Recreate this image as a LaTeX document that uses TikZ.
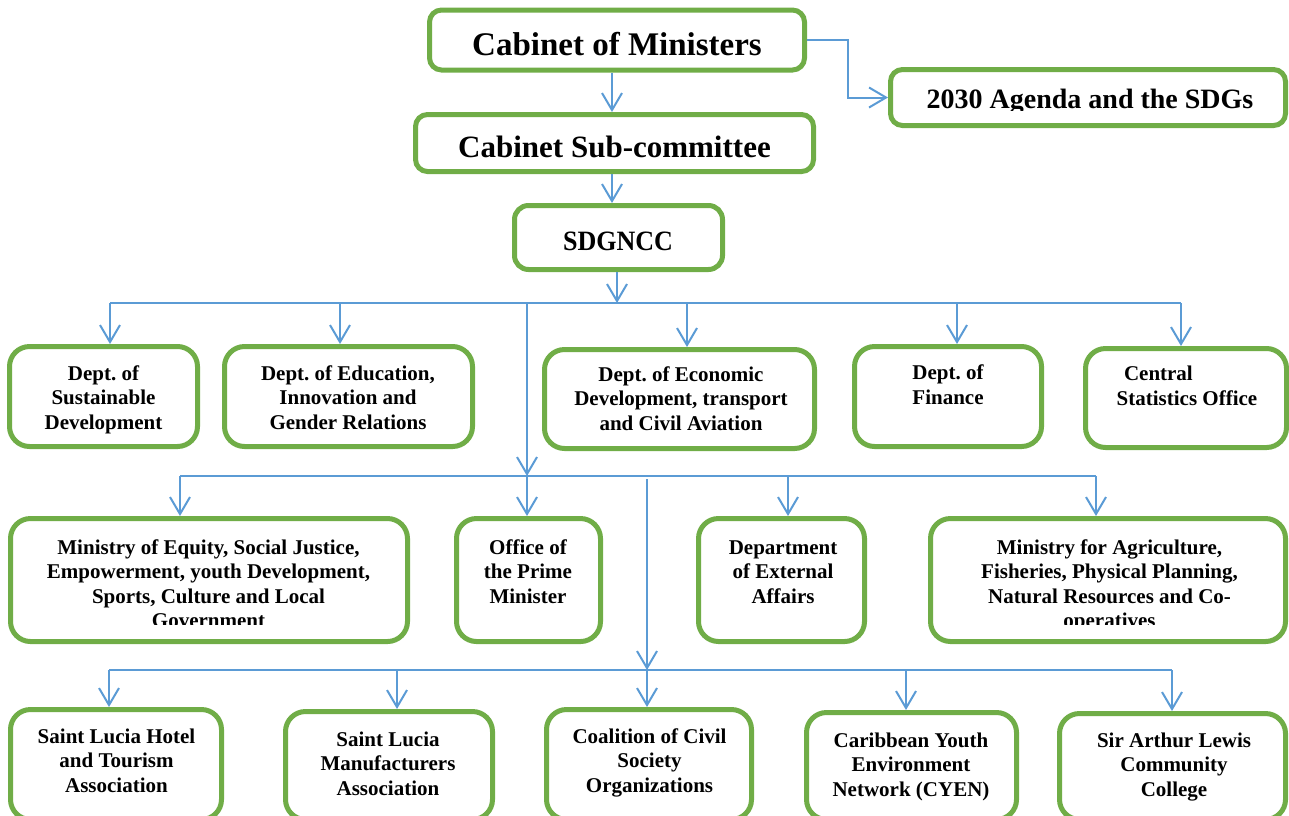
\documentclass[tikz,border=0pt]{standalone}
\usepackage{fontspec}
\setmainfont{Liberation Serif}
\usetikzlibrary{arrows.meta}
\definecolor{gbox}{RGB}{112,173,71}
\definecolor{barrow}{RGB}{91,155,213}
\frenchspacing
\tikzset{
  box/.style={draw=gbox, line width=5pt, fill=white, rounded corners=#1, inner sep=0pt},
  box/.default=20pt,
  txt/.style={font=\bfseries\fontsize{21}{24.5}\selectfont, align=center, inner sep=0pt, anchor=base},
  big/.style={font=\bfseries\fontsize{#1}{#1}\selectfont, inner sep=0pt, anchor=base},
  arr/.style={draw=barrow, line width=2pt, -{Straight Barb[length=17pt,width=20pt]}},
  bus/.style={draw=barrow, line width=1.5pt},
}
\begin{document}
\begin{tikzpicture}[x=1pt,y=-1pt]
\useasboundingbox (0,0) rectangle (1289,815);
\clip (0,0) rectangle (1289,815);
% top boxes
\node[box=12pt, minimum width=375pt, minimum height=60pt] (cab) at (617,40) {};
\node[big=33] (cabt) at (617,55) {Cabinet of Ministers};
\node[box=12pt, minimum width=398pt, minimum height=57pt] (sub) at (614.5,143) {};
\node[big=31] (subt) at (614.5,157) {Cabinet Sub-committee};
\node[box=12pt, minimum width=395pt, minimum height=56pt] (age) at (1088,97.5) {};
\begin{scope}
\clip (0,0) rectangle (1289,110);
\node[big=28] (aget) at (1090,108) {2030 Agenda and the SDGs};
\end{scope}
\node[box=14pt, minimum width=208pt, minimum height=64pt] (sdg) at (618.5,237.5) {};
\node[big=28] (sdgt) at (618,250) {\scalebox{0.93}[1]{SDGNCC}};
% row 2
\node[box, minimum width=188pt, minimum height=100pt] (d1) at (103.5,396.5) {};
\node[box, minimum width=248pt, minimum height=100pt] (d2) at (348.5,396.5) {};
\node[box, minimum width=270pt, minimum height=99pt] (d3) at (679.5,399) {};
\node[box, minimum width=187pt, minimum height=100pt] (d4) at (948,396.5) {};
\node[box, minimum width=201pt, minimum height=99pt] (d5) at (1186,398) {};
\node[txt] (d1t) at (103.5,429) {Dept. of\\Sustainable\\Development};
\node[txt] (d2t) at (348,429) {Dept. of Education,\\Innovation and\\Gender Relations};
\node[txt] (d3t) at (681,430) {Dept. of Economic\\Development, transport\\and Civil Aviation};
\node[txt] (d4t) at (948,404) {Dept. of\\Finance};
\node[txt] (d5t) at (1187,405) {\makebox[142pt][l]{\hspace*{8pt}Central}\\Statistics Office};
% row 3
\node[box, minimum width=397pt, minimum height=123pt] (m1) at (209,580) {};
\node[box, minimum width=144pt, minimum height=123pt] (m2) at (528.5,580) {};
\node[box, minimum width=166pt, minimum height=123pt] (m3) at (781.5,580) {};
\node[box, minimum width=355pt, minimum height=123pt] (m4) at (1108,580) {};
\begin{scope}
\clip (0,0) rectangle (1289,624);
\node[txt] (m1t) at (208.5,627.5) {Ministry of Equity, Social Justice,\\Empowerment, youth Development,\\Sports, Culture and Local\\Government};
\node[txt] (m4t) at (1109.5,627.5) {Ministry for Agriculture,\\Fisheries, Physical Planning,\\Natural Resources and Co-\\operatives};
\end{scope}
\node[txt] (m2t) at (528,603) {Office of\\the Prime\\Minister};
\node[txt] (m3t) at (783,603) {Department\\of External\\Affairs};
% row 4
\node[box, minimum width=211pt, minimum height=110pt] (b1) at (116,764.5) {};
\node[box, minimum width=207pt, minimum height=108pt] (b2) at (389,765.5) {};
\node[box, minimum width=205pt, minimum height=110pt] (b3) at (649,764.5) {};
\node[box, minimum width=210pt, minimum height=107pt] (b4) at (911.5,766) {};
\node[box, minimum width=226pt, minimum height=106pt] (b5) at (1172.5,766.5) {};
\node[txt] (b1t) at (116.5,792) {Saint Lucia Hotel\\and Tourism\\Association};
\node[txt] (b2t) at (388,795) {Saint Lucia\\Manufacturers\\Association};
\node[txt] (b3t) at (649.5,792) {Coalition of Civil\\Society\\Organizations};
\node[txt] (b4t) at (911,796) {Caribbean Youth\\Environment\\Network (CYEN)};
\node[txt] (b5t) at (1174,796) {Sir Arthur Lewis\\Community\\College};
% connectors top
\coordinate (x1) at (612,0);
\draw[arr] (x1 |- cab.south) -- (x1 |- sub.north);
\draw[arr] (x1 |- sub.south) -- (x1 |- sdg.north);
\coordinate (e1) at (848,60);
\draw[arr] (cab.east) -| (e1) |- (age.west);
% bus 1
\coordinate (s1) at (617,303);
\draw[arr] (s1 |- sdg.south) -- (s1);
\coordinate (bus1L) at (110,303);
\coordinate (bus1R) at (1181,303);
\draw[bus] (bus1L) -- (bus1R);
\coordinate (t12) at (340,303);
\coordinate (t13) at (687,303);
\coordinate (t14) at (957,303);
\draw[arr] (bus1L) -- (bus1L |- d1.north);
\draw[arr] (t12) -- (t12 |- d2.north);
\draw[arr] (t13) -- (t13 |- d3.north);
\draw[arr] (t14) -- (t14 |- d4.north);
\draw[arr] (bus1R) -- (bus1R |- d5.north);
% bus 2
\coordinate (v1a) at (527,302);
\coordinate (v1b) at (527,476);
\draw[arr] (v1a) -- (v1b);
\draw[arr] (v1b) -- (v1b |- m2.north);
\coordinate (bus2L) at (180,476);
\coordinate (bus2R) at (1096,476);
\draw[bus] (bus2L) -- (bus2R);
\coordinate (t23) at (788,476);
\draw[arr] (bus2L) -- (bus2L |- m1.north);
\draw[arr] (t23) -- (t23 |- m3.north);
\draw[arr] (bus2R) -- (bus2R |- m4.north);
% bus 3
\coordinate (v2a) at (647,479);
\coordinate (v2b) at (647,670);
\draw[arr] (v2a) -- (v2b);
\draw[arr] (v2b) -- (v2b |- b3.north);
\coordinate (bus3L) at (109,670);
\coordinate (bus3R) at (1172,670);
\draw[bus] (bus3L) -- (bus3R);
\coordinate (t32) at (397,670);
\coordinate (t34) at (906,670);
\draw[arr] (bus3L) -- (bus3L |- b1.north);
\draw[arr] (t32) -- (t32 |- b2.north);
\draw[arr] (t34) -- (t34 |- b4.north);
\draw[arr] (bus3R) -- (bus3R |- b5.north);
\end{tikzpicture}
\end{document}
